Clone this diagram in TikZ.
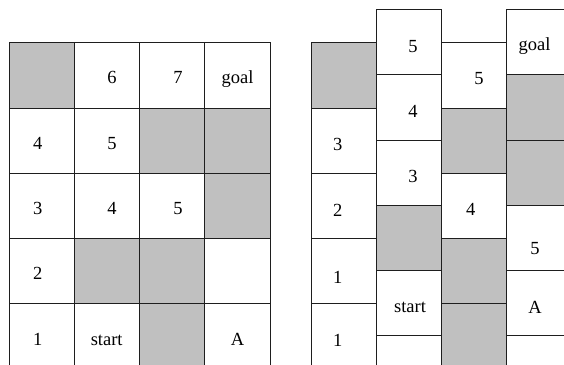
\documentclass[tikz,border=0pt]{standalone}
\usepackage{fontspec}
\setmainfont{Liberation Serif}
\definecolor{wallgray}{RGB}{192,192,192}
\definecolor{linegray}{RGB}{30,30,30}
\tikzset{
	cellbox/.style={draw=linegray, line width=0.9pt},
	lbl/.style={anchor=base, inner sep=0.75pt, font=\fontsize{18.5}{22}\selectfont}
}
\begin{document}
\begin{tikzpicture}[x=1pt,y=1pt,yscale=-1,xscale=1]
	\useasboundingbox (0,0) rectangle (564,364);
	\clip (0,0) rectangle (564,364);
	
	%Left board, columns from the left
	\foreach \r/\f in {0/wallgray,1/white,2/white,3/white,4/white}
		\draw [cellbox, fill=\f] (9,{42.7+\r*65.3}) rectangle ++(65.3,65.3);
	\foreach \r/\f in {0/white,1/white,2/white,3/wallgray,4/white}
		\draw [cellbox, fill=\f] (74.3,{42.7+\r*65.3}) rectangle ++(65.3,65.3);
	\foreach \r/\f in {0/white,1/wallgray,2/white,3/wallgray,4/wallgray}
		\draw [cellbox, fill=\f] (139.6,{42.7+\r*65.3}) rectangle ++(65.3,65.3);
	\foreach \r/\f in {0/white,1/wallgray,2/wallgray,3/white,4/white}
		\draw [cellbox, fill=\f] (204.9,{42.7+\r*65.3}) rectangle ++(65.3,65.3);
	
	%Right board, columns 2 and 4 shifted up by half a cell
	\foreach \r/\f in {0/wallgray,1/white,2/white,3/white,4/white}
		\draw [cellbox, fill=\f] (311,{42.7+\r*65.3}) rectangle ++(65.3,65.3);
	\foreach \r/\f in {0/white,1/white,2/white,3/wallgray,4/white,5/white}
		\draw [cellbox, fill=\f] (376.3,{9.4+\r*65.3}) rectangle ++(65.3,65.3);
	\foreach \r/\f in {0/white,1/wallgray,2/white,3/wallgray,4/wallgray}
		\draw [cellbox, fill=\f] (441.6,{42.7+\r*65.3}) rectangle ++(65.3,65.3);
	\foreach \r/\f in {0/white,1/wallgray,2/wallgray,3/white,4/white,5/white}
		\draw [cellbox, fill=\f] (506.9,{9.4+\r*65.3}) rectangle ++(65.3,65.3);
	
	% Text Node (left board)
	\node (lsix) [lbl] at (112,83.3) {6};
	\node (lseven) [lbl] at (178,83.3) {7};
	\node (lgoal) [lbl] at (237.5,83.3) {goal};
	\node (lfour) [lbl] at (37.7,149.5) {4};
	\node (lfive) [lbl] at (112,149.5) {5};
	\node (lthree) [lbl] at (37.7,214.5) {3};
	\node (lfourb) [lbl] at (112,214.5) {4};
	\node (lfiveb) [lbl] at (178,214.5) {5};
	\node (ltwo) [lbl] at (37.7,279) {2};
	\node (lone) [lbl] at (37.7,345.5) {1};
	\node (lstart) [lbl] at (106.7,345.5) {start};
	\node (lA) [lbl] at (237.5,345.5) {A};
	
	% Text Node (right board)
	\node (rthree) [lbl] at (337.7,150.5) {3};
	\node (rtwo) [lbl] at (337.7,216.3) {2};
	\node (rone) [lbl] at (337.7,283) {1};
	\node (roneb) [lbl] at (337.7,346.3) {1};
	\node (rfive) [lbl] at (413,52.3) {5};
	\node (rfour) [lbl] at (413,117.3) {4};
	\node (rthreeb) [lbl] at (413,182) {3};
	\node (rstart) [lbl] at (410,312.7) {start};
	\node (rfiveb) [lbl] at (479,84) {5};
	\node (rfourb) [lbl] at (470.7,215.3) {4};
	\node (rgoal) [lbl] at (534.5,50.5) {goal};
	\node (rfivec) [lbl] at (535,254.5) {5};
	\node (rA) [lbl] at (535,313) {A};
\end{tikzpicture}
\end{document}
